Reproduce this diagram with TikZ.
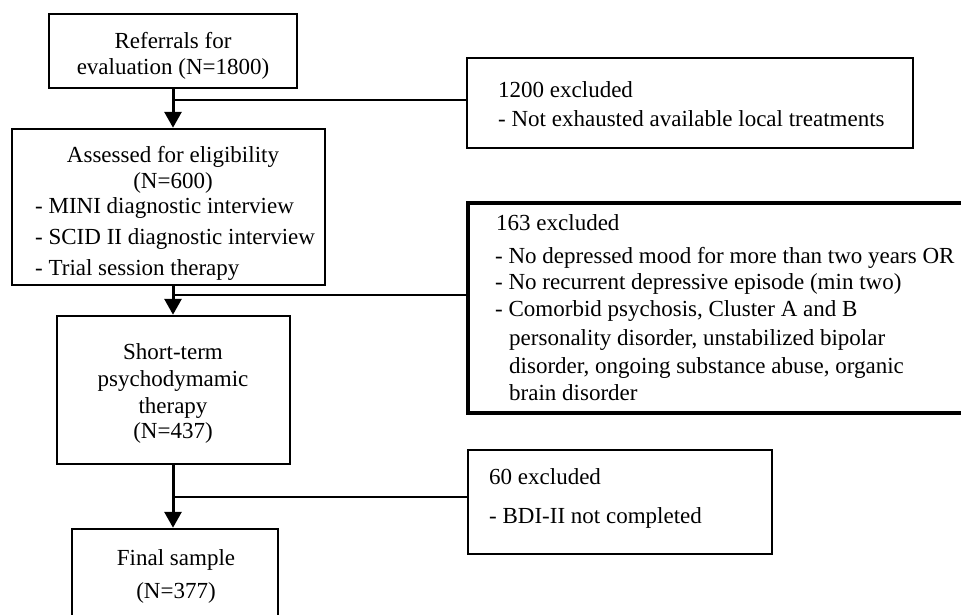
\documentclass[tikz,border=0pt]{standalone}
\usepackage{fontspec}
\setmainfont{Liberation Serif}
\usetikzlibrary{arrows.meta}
\begin{document}
\begin{tikzpicture}[x=1pt,y=-1pt,
  box/.style={draw, line width=2.5pt, inner sep=0pt},
  txt/.style={inner sep=0pt, anchor=base, font=\fontsize{23}{26}\selectfont},
  ltxt/.style={txt, anchor=base west},
  flow/.style={line width=3pt, -{Triangle[width=17pt,length=16pt]}},
  branch/.style={line width=2.5pt}]
\useasboundingbox (0,0) rectangle (961,614);
% main boxes
\node[box, minimum width=248pt, minimum height=74pt] (b1) at (173,51) {};
\node[box, minimum width=313pt, minimum height=156pt] (b2) at (168.5,207) {};
\node[box, minimum width=233pt, minimum height=148pt] (b3) at (173.5,390) {};
\node[box, minimum width=206pt, minimum height=121pt] (b4) at (175,589.5) {};
% exclusion boxes
\node[box, minimum width=446pt, minimum height=90pt] (e1) at (690,103) {};
\node[box, line width=3.5pt, minimum width=522pt, minimum height=210pt] (e2) at (729,308) {};
\node[box, line width=2pt, minimum width=304pt, minimum height=104pt] (e3) at (620,502) {};
% connectors
\coordinate (j1) at (173,100);
\coordinate (j2) at (173,295);
\coordinate (j3) at (173,497);
\draw[flow] (b1.south) -- (b1.south |- b2.north);
\draw[flow] (b2.south -| b1.south) -- (b1.south |- b3.north);
\draw[flow] (b3.south -| b1.south) -- (b1.south |- b4.north);
\draw[branch] (j1) -- (j1 -| e1.west);
\draw[branch] (j2) -- (j2 -| e2.west);
\draw[branch] (j3) -- (j3 -| e3.west);
% texts in main boxes
\node[txt] (t1a) at (173,48) {Referrals for};
\node[txt] (t1b) at (173,74) {evaluation (N=1800)};
\node[txt] (t2a) at (173,162) {Assessed for eligibility};
\node[txt] (t2b) at (173,188) {(N=600)};
\node[ltxt] (t2c) at (35,213) {- MINI diagnostic interview};
\node[ltxt] (t2d) at (35,244) {- SCID II diagnostic interview};
\node[ltxt] (t2e) at (35,275) {- Trial session therapy};
\node[txt] (t3a) at (173,359) {Short-term};
\node[txt] (t3b) at (173,386) {psychodymamic};
\node[txt] (t3c) at (173,413) {therapy};
\node[txt] (t3d) at (173,438) {(N=437)};
\node[txt] (t4a) at (176,565) {Final sample};
\node[txt] (t4b) at (176,598) {(N=377)};
% texts in exclusion boxes
\node[ltxt] (x1a) at (498,97) {1200 excluded};
\node[ltxt] (x1b) at (498,126) {- Not exhausted available local treatments};
\node[ltxt] (x2a) at (496,230) {163 excluded};
\node[ltxt] (x2b) at (495,263) {- No depressed mood for more than two years OR};
\node[ltxt] (x2c) at (495,289) {- No recurrent depressive episode (min two)};
\node[ltxt] (x2d) at (495,316) {- Comorbid psychosis, Cluster A and B};
\node[ltxt] (x2e) at (509,345) {personality disorder, unstabilized bipolar};
\node[ltxt] (x2f) at (509,373) {disorder, ongoing substance abuse, organic};
\node[ltxt] (x2g) at (509,400) {brain disorder};
\node[ltxt] (x3a) at (489,484) {60 excluded};
\node[ltxt] (x3b) at (489,523) {- BDI-II not completed};
\end{tikzpicture}
\end{document}
